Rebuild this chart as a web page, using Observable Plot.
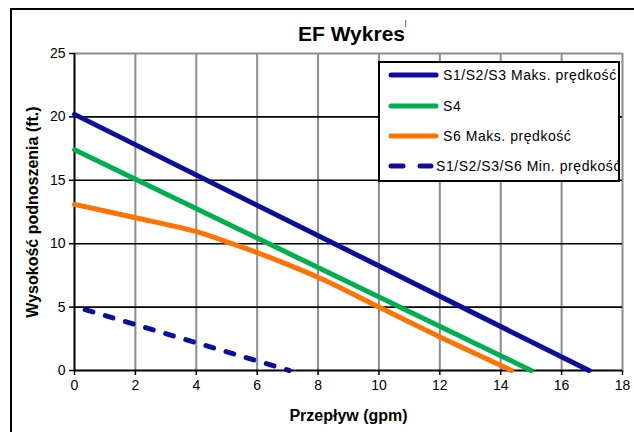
<!DOCTYPE html>
<html>
<head>
<meta charset="utf-8">
<script src="https://cdn.jsdelivr.net/npm/d3@7"></script>
<script src="https://cdn.jsdelivr.net/npm/@observablehq/plot@0.6"></script>
<style>
  html, body { margin: 0; padding: 0; background: #fff; }
  #wrap { position: relative; width: 634px; height: 432px; overflow: hidden; font-family: "Liberation Sans", Arial, sans-serif; }
  #frame { position: absolute; left: 10px; top: 8px; width: 700px; height: 500px; border-left: 2px solid #000; border-top: 2px solid #000; }
  #chart { position: absolute; left: 0; top: 0; }
  #legend { position: absolute; left: 378px; top: 61px; width: 238px; height: 117px; border: 2px solid #000; background: #fff; font-size: 14px; letter-spacing: 0.55px; overflow: hidden; }
  .row { position: absolute; left: 8px; height: 20px; display: flex; align-items: center; white-space: nowrap; }
</style>
</head>
<body>
<div id="wrap">
  <div id="frame"></div>
  <div id="chart"></div>
  <div id="legend"></div>
</div>
<script>
// ---- data ----
const seriesNames = ["S1/S2/S3 Maks. prędkość", "S4", "S6 Maks. prędkość", "S1/S2/S3/S6 Min. prędkość"];
const seriesColors = ["#0c0c9e", "#00b050", "#ff7300", "#0c0c9e"];
const seriesDash = [null, null, null, "8,13"];

const blueX = [0, 16.9];
const blueY = [20.2, 0];
const greenX = [0, 15.0];
const greenY = [17.4, 0];
const orangeX = [0, 2, 4, 5, 6, 8, 10, 12, 14.35];
const orangeY = [13.1, 12.05, 10.95, 10.15, 9.3, 7.35, 5.0, 2.65, 0];
const minX = [0.35, 7.05];
const minY = [4.8, 0];

const xTicks = [0, 2, 4, 6, 8, 10, 12, 14, 16, 18];
const yTicks = [0, 5, 10, 15, 20, 25];

const titleText = "EF Wykres";
const xLabel = "Przepływ (gpm)";
const yLabel = "Wysokość podnoszenia (ft.)";

const toRows = (xs, ys) => xs.map((x, i) => ({x, y: ys[i]}));
const blue = toRows(blueX, blueY);
const green = toRows(greenX, greenY);
const orange = toRows(orangeX, orangeY);
const minS = toRows(minX, minY);

const font = "'Liberation Sans', Arial, sans-serif";

const chart = Plot.plot({
  width: 634,
  height: 432,
  marginLeft: 74,
  marginRight: 12,
  marginTop: 53,
  marginBottom: 62,
  style: { fontFamily: font, fontSize: "14px", background: "transparent", color: "#000" },
  x: { domain: [0, 18] },
  y: { domain: [0, 25] },
  marks: [
    Plot.ruleX(xTicks.filter(d => d > 0), { stroke: "#8c8c8c", strokeWidth: 2 }),
    Plot.ruleY(yTicks.filter(d => d > 0 && d < 25), { stroke: "#000", strokeWidth: 1.6 }),
    Plot.ruleY([25], { stroke: "#8c8c8c", strokeWidth: 2 }),
    Plot.ruleX([0], { stroke: "#000", strokeWidth: 2 }),
    Plot.ruleY([0], { stroke: "#000", strokeWidth: 2 }),
    Plot.axisX({ ticks: xTicks, tickSize: 5, tickPadding: 5, label: null, stroke: "#000", strokeWidth: 1.5, fontSize: 14 }),
    Plot.axisY({ ticks: yTicks, tickSize: 5, tickPadding: 4, label: null, stroke: "#000", strokeWidth: 1.5, fontSize: 14 }),
    Plot.line(orange, { x: "x", y: "y", stroke: seriesColors[2], strokeWidth: 5, curve: "catmull-rom" }),
    Plot.line(green, { x: "x", y: "y", stroke: seriesColors[1], strokeWidth: 5 }),
    Plot.line(blue, { x: "x", y: "y", stroke: seriesColors[0], strokeWidth: 5 }),
    Plot.line(minS, { x: "x", y: "y", stroke: seriesColors[3], strokeWidth: 5, strokeDasharray: seriesDash[3], strokeLinecap: "round" }),
    Plot.text([titleText], { frameAnchor: "top", dx: 3, dy: -19, text: d => d, fontSize: 21, fontWeight: "bold", lineAnchor: "middle", style: "letter-spacing:0.5px" }),
    Plot.text(["|"], { frameAnchor: "top", dx: 57, dy: -31, text: d => d, fontSize: 8, lineAnchor: "middle" }),
    Plot.text([xLabel], { frameAnchor: "bottom", dy: 45, text: d => d, fontSize: 16, fontWeight: "bold", lineAnchor: "middle" }),
    Plot.text([yLabel], { frameAnchor: "left", dx: -42, rotate: -90, text: d => d, fontSize: 16, fontWeight: "bold", textAnchor: "middle", lineAnchor: "middle" })
  ]
});
document.getElementById("chart").appendChild(chart);

// legend
const legend = document.getElementById("legend");
const rowTops = [2, 33, 63, 93];
seriesNames.forEach((name, i) => {
  const row = document.createElement("div");
  row.className = "row";
  row.style.top = rowTops[i] + "px";
  const dashed = !!seriesDash[i];
  const w = dashed ? 46 : 51;
  const dash = dashed ? `stroke-dasharray="12,17"` : "";
  row.innerHTML = `<svg width="${w}" height="10" style="margin-right:${dashed ? 2 : 4}px"><line x1="3" y1="5" x2="${w - 3}" y2="5" stroke="${seriesColors[i]}" stroke-width="5" ${dash} stroke-linecap="round"/></svg><span>${name}</span>`;
  legend.appendChild(row);
});
</script>
</body>
</html>
